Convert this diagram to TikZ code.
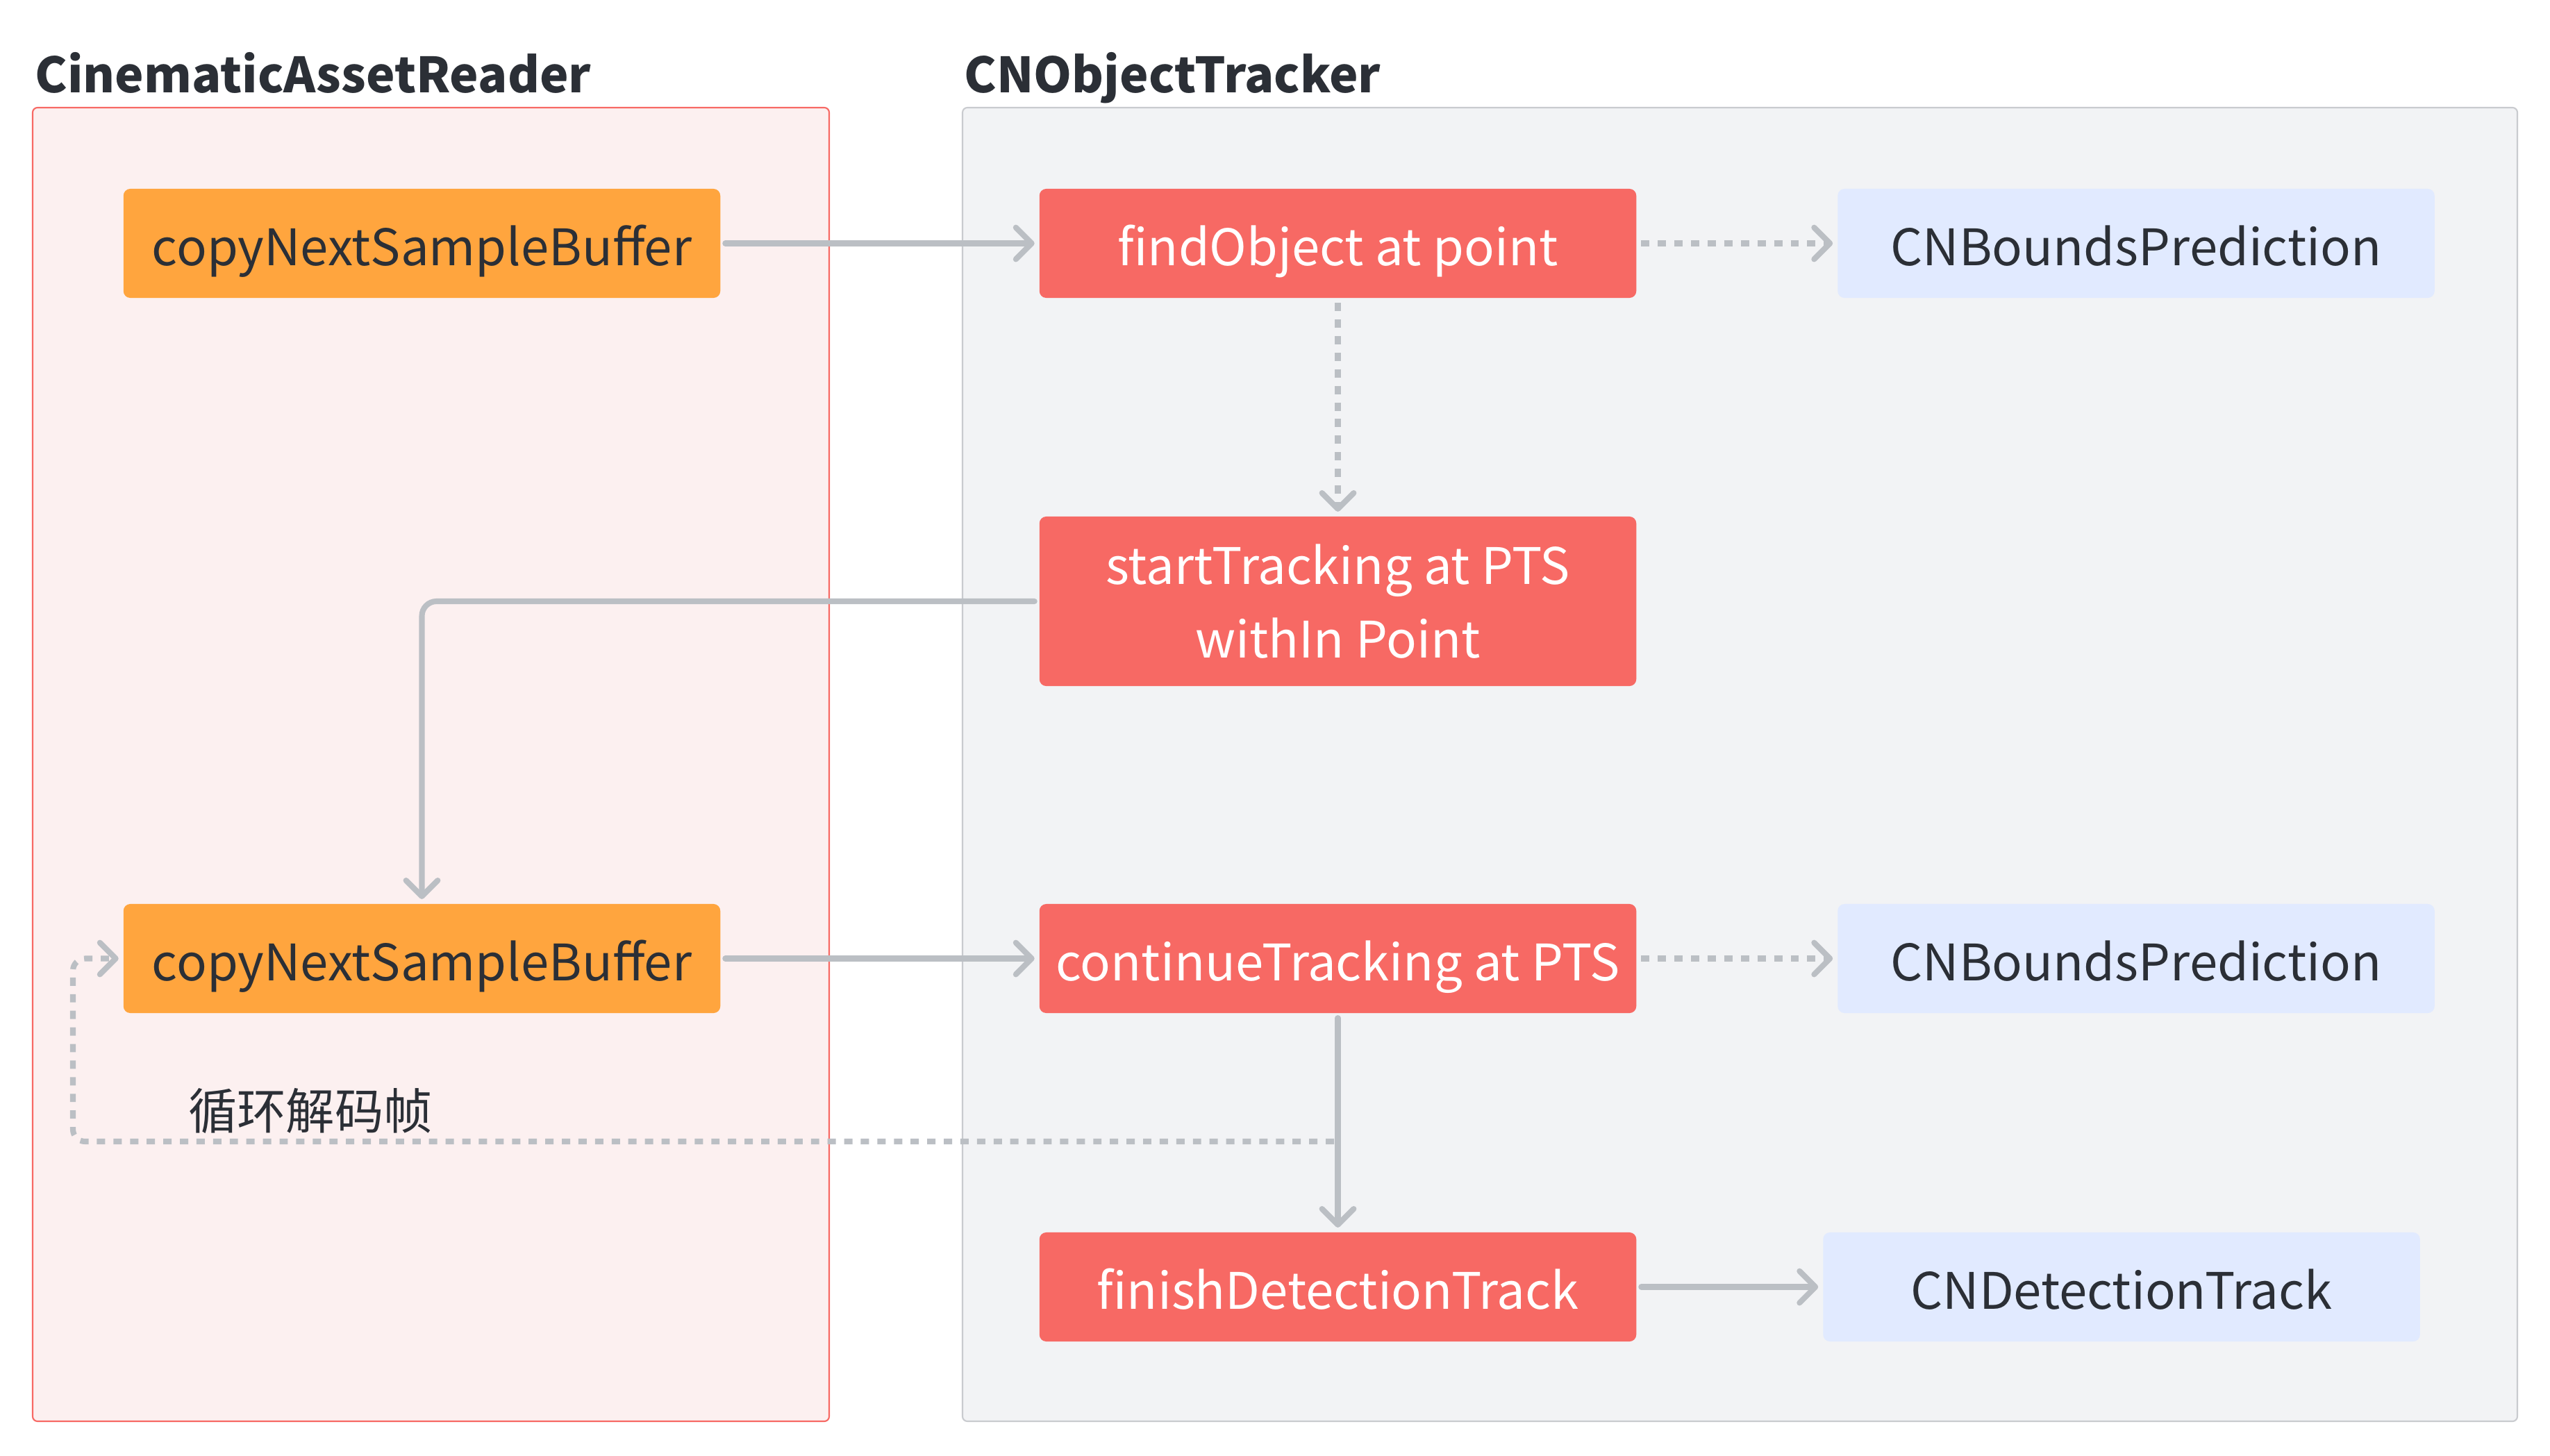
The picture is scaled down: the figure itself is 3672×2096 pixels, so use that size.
\documentclass[tikz,border=0pt]{standalone}
\usepackage{fontspec}
\setmainfont{Noto Sans CJK SC}
\usetikzlibrary{arrows.meta}

\definecolor{orangebox}{HTML}{FFA53E}
\definecolor{redbox}{HTML}{F76964}
\definecolor{bluebox}{HTML}{E1EAFF}
\definecolor{readerfill}{HTML}{FCF0F0}
\definecolor{trackerfill}{HTML}{F2F3F5}
\definecolor{trackerline}{HTML}{C9CBCF}
\definecolor{edgegray}{HTML}{BBBFC4}
\definecolor{inkdark}{HTML}{2B2F36}

\tikzset{
  box/.style={minimum width=8.59cm, minimum height=1.57cm, inner sep=0pt,
    rounded corners=2.8pt, outer sep=2pt, align=center,
    text height=18pt, text depth=0pt,
    font=\fontsize{20.6}{30}\selectfont},
  readbox/.style={box, fill=orangebox, text=inkdark},
  callbox/.style={box, fill=redbox, text=white},
  resultbox/.style={box, fill=bluebox, text=inkdark},
  flow/.style={draw=edgegray, line width=2.3pt,
    -{Straight Barb[length=6.5pt,width=13pt,round]}},
  solidflow/.style={flow, line cap=round},
  dotflow/.style={flow, dash pattern=on 3.4pt off 3.4pt},
  grouptitle/.style={anchor=base west, inner sep=0pt, text=inkdark,
    font=\fontsize{19.9}{26}\selectfont\bfseries}
}

\begin{document}
\begin{tikzpicture}[x=0.01cm, y=-0.01cm]
\useasboundingbox (0,0) rectangle (3672,2096);

% groups
\draw[fill=readerfill, draw=redbox, line width=0.6pt, rounded corners=2pt] (47,155) rectangle (1194,2047);
\draw[fill=trackerfill, draw=trackerline, line width=0.6pt, rounded corners=2pt] (1386,155) rectangle (3625,2047);
\node[grouptitle] (readertitle) at (50,133) {CinematicAssetReader};
\node[grouptitle] (trackertitle) at (1388,133) {CNObjectTracker};

% reader calls
\node[readbox] (copyfirst) at (607.5,350.5) {copyNextSampleBuffer};
\node[readbox] (copysecond) at (607.5,1380.5) {copyNextSampleBuffer};

% tracker calls
\node[callbox] (findobj) at (1926.5,350.5) {findObject at point};
\node[callbox, minimum height=2.44cm, text height={}, text depth={}] (starttrack) at (1926.5,866) {startTracking at PTS\\withIn Point};
\node[callbox] (conttrack) at (1926.5,1380.5) {continueTracking at PTS};
\node[callbox] (finishtrack) at (1926.5,1853.5) {finishDetectionTrack};

% results
\node[resultbox] (boundsfirst) at (3076,350.5) {CNBoundsPrediction};
\node[resultbox] (boundssecond) at (3076,1380.5) {CNBoundsPrediction};
\node[resultbox] (dettrack) at (3055,1853.5) {CNDetectionTrack};

% flow
\draw[solidflow] (copyfirst) -- (findobj);
\draw[dotflow] (findobj) -- (boundsfirst);
\draw[dotflow] (findobj) -- (starttrack);
\draw[solidflow, rounded corners=6pt] (starttrack.west) -| (copysecond.north);
\draw[solidflow] (copysecond) -- (conttrack);
\draw[dotflow] (conttrack) -- (boundssecond);
\draw[solidflow] (conttrack) -- (finishtrack);
\draw[solidflow] (finishtrack) -- (dettrack);

% decode loop
\coordinate (loopstart) at (1921,1644);
\coordinate (loopcorner) at (105,1644);
\draw[dotflow, rounded corners=5pt] (loopstart) -- (loopcorner) |- (copysecond.west);
\node[text=inkdark, font=\fontsize{20}{24}\selectfont, inner sep=0pt] (looplabel) at (447,1600) {循环解码帧};

\end{tikzpicture}
\end{document}
